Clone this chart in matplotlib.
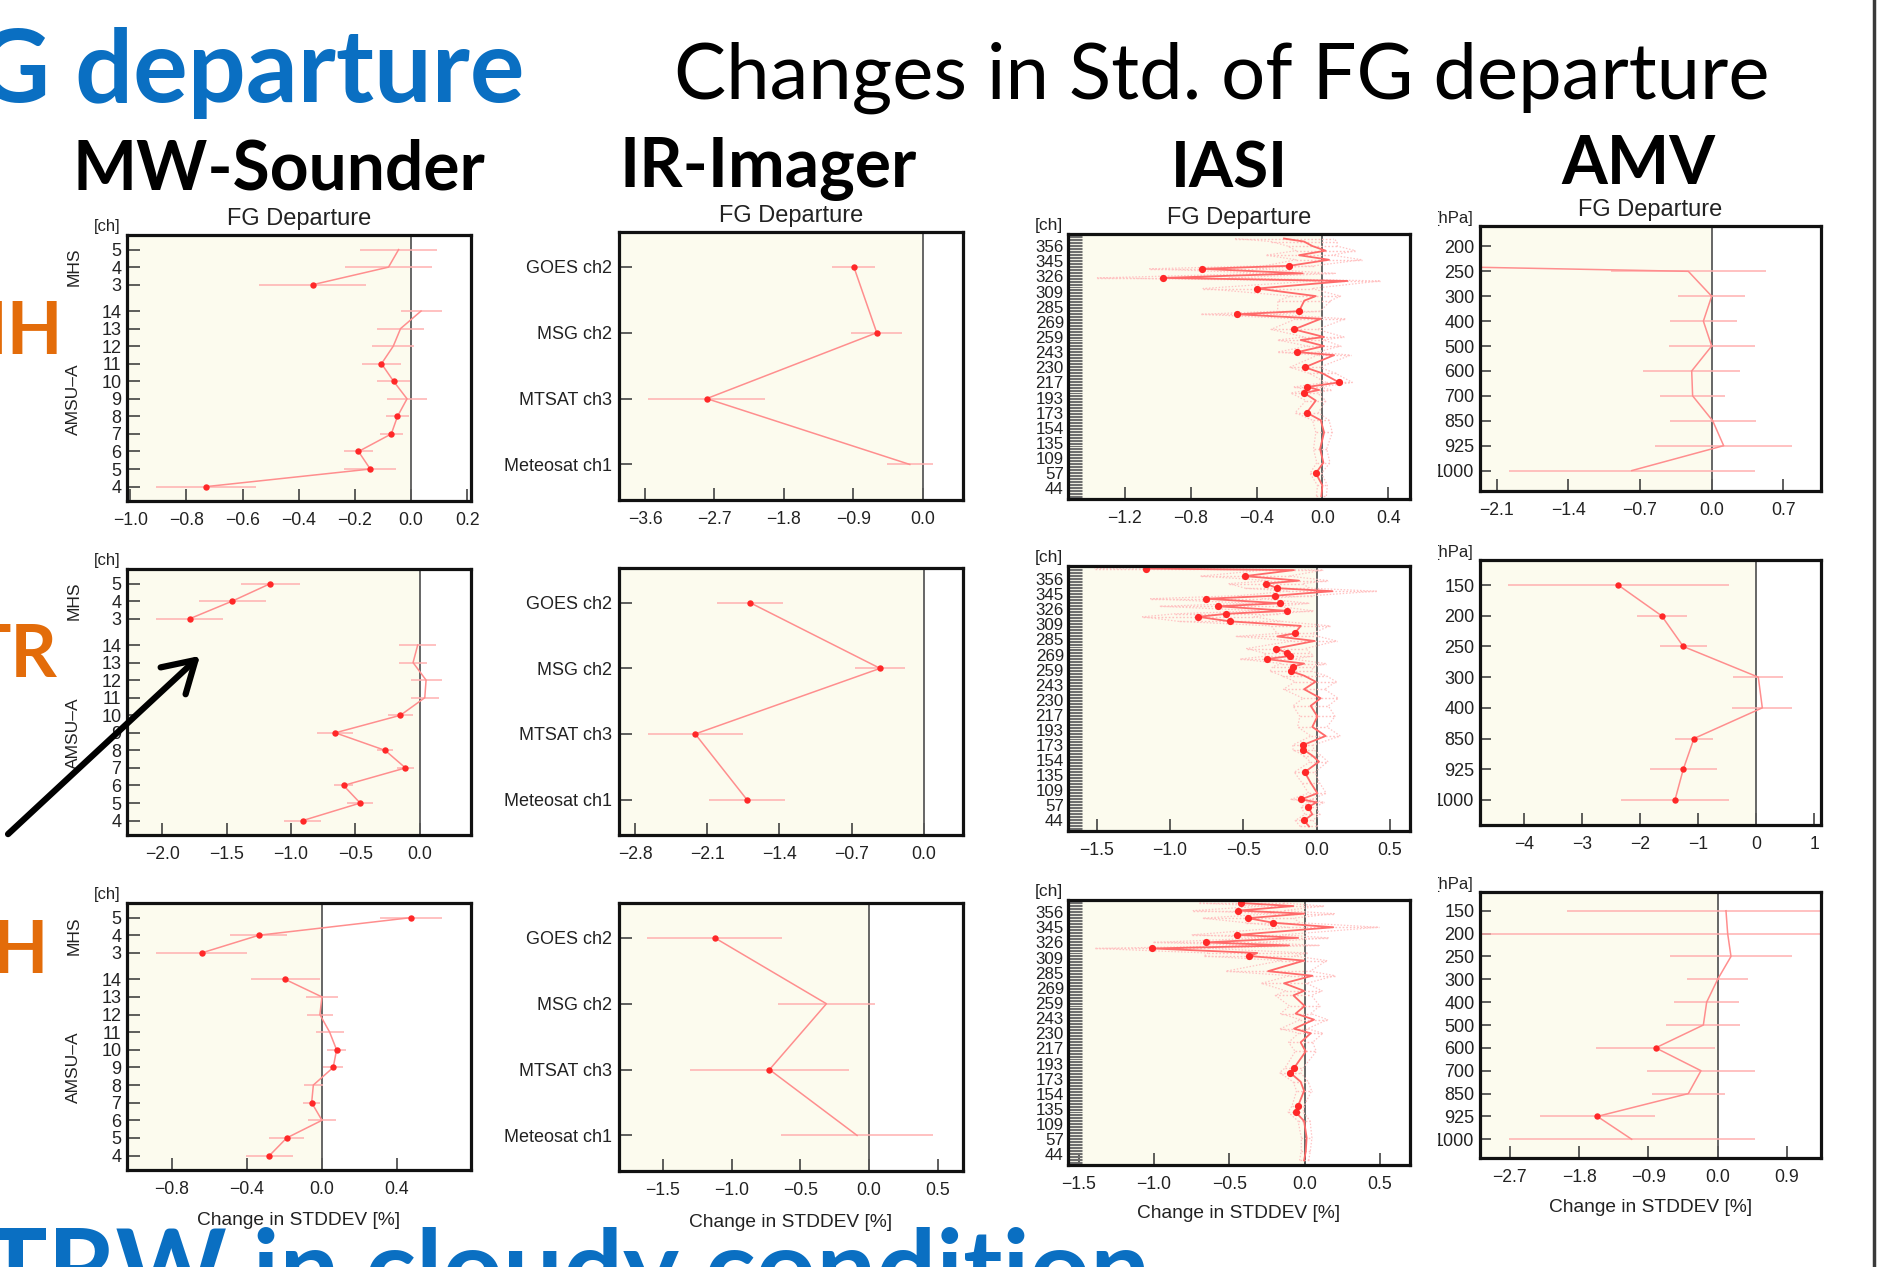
import numpy as np
import matplotlib
matplotlib.use("Agg")
import matplotlib.pyplot as plt
from matplotlib.transforms import blended_transform_factory
from matplotlib.patches import Rectangle, FancyArrowPatch
from matplotlib.lines import Line2D

# ======================= DATA =======================
# --- MW-Sounder (AMSU-A channels 4..14, MHS channels 3..5) ---
amsu_ch = [4, 5, 6, 7, 8, 9, 10, 11, 12, 13, 14]
mhs_ch = [3, 4, 5]

mw_nh_amsu = [-0.73, -0.145, -0.187, -0.07, -0.048, -0.014, -0.062, -0.105, -0.063, -0.037, 0.036]
mw_nh_amsu_err = [0.178, 0.093, 0.053, 0.04, 0.042, 0.07, 0.058, 0.07, 0.075, 0.083, 0.073]
mw_nh_mhs = [-0.35, -0.08, -0.044]
mw_nh_mhs_err = [0.19, 0.154, 0.137]

mw_tr_amsu = [-0.91, -0.463, -0.592, -0.111, -0.269, -0.656, -0.15, 0.039, 0.049, -0.052, -0.016]
mw_tr_amsu_err = [0.142, 0.1, 0.074, 0.066, 0.065, 0.14, 0.098, 0.11, 0.12, 0.11, 0.146]
mw_tr_mhs = [-1.786, -1.457, -1.16]
mw_tr_mhs_err = [0.26, 0.26, 0.23]

mw_sh_amsu = [-0.28, -0.188, 0.0, -0.055, -0.046, 0.06, 0.078, 0.041, -0.011, 0.0, -0.197]
mw_sh_amsu_err = [0.127, 0.093, 0.075, 0.047, 0.049, 0.053, 0.052, 0.075, 0.068, 0.083, 0.184]
mw_sh_mhs = [-0.641, -0.337, 0.476]
mw_sh_mhs_err = [0.242, 0.153, 0.164]

# --- IR-Imager (top to bottom) ---
ir_sat = ["GOES ch2", "MSG ch2", "MTSAT ch3", "Meteosat ch1"]
ir_nh = [-0.893, -0.596, -2.80, -0.168]
ir_nh_err = [0.28, 0.33, 0.76, 0.30]
ir_tr = [-1.683, -0.423, -2.216, -1.715]
ir_tr_err = [0.32, 0.245, 0.46, 0.37]
ir_sh = [-1.121, -0.31, -0.724, -0.087]
ir_sh_err = [0.49, 0.35, 0.58, 0.555]

# --- IASI (channel index in used-channel list, bottom to top) ---
iasi_labels = [44, 57, 109, 135, 154, 173, 193, 217, 230, 243, 259, 269, 285, 309, 326, 345, 356]

iasi_nh_idx = [2, 9, 17, 24, 33, 44, 52, 57, 65, 70, 72, 74, 77, 83, 87, 95, 97, 101, 105, 107,
               112, 119, 122, 124, 131, 134, 139, 144, 146, 149, 152, 154, 158, 161, 164, 167, 170, 172]
iasi_nh = [-0.006, 0.0, -0.04, 0.006, -0.014, 0.01, -0.01, -0.095, -0.04, -0.111,
           -0.02, -0.091, 0.101, 0.0, -0.107, 0.071, -0.152, 0.01, -0.132, 0.01,
           -0.172, -0.01, -0.516, -0.142, -0.11, -0.04, -0.395, 0.152, -0.966, -0.121,
           -0.729, -0.2, 0.04, -0.142, 0.02, -0.06, -0.111, -0.233]
iasi_nh_err = [0.03, 0.03, 0.035, 0.04, 0.04, 0.05, 0.05, 0.07, 0.06, 0.08,
               0.07, 0.08, 0.08, 0.08, 0.09, 0.1, 0.12, 0.1, 0.14, 0.12,
               0.14, 0.15, 0.22, 0.13, 0.16, 0.15, 0.33, 0.2, 0.4, 0.2,
               0.32, 0.15, 0.2, 0.2, 0.18, 0.15, 0.2, 0.3]

iasi_tr_idx = [3, 7, 11, 16, 19, 21, 25, 32, 39, 46, 50, 54, 57, 63, 69, 76, 83, 88, 94, 99,
               103, 106, 109, 111, 114, 116, 118, 121, 126, 129, 131, 136, 139, 142, 144, 146, 149, 151, 154, 156,
               159, 161, 164, 166, 169, 173, 174]
iasi_tr = [-0.052, -0.086, -0.03, -0.057, 0.0, -0.105, 0.005, -0.041, -0.082, 0.016,
           -0.03, -0.091, -0.093, 0.061, -0.03, 0.005, -0.041, 0.027, -0.086, -0.007,
           -0.086, -0.177, -0.159, -0.086, -0.341, -0.182, -0.2, -0.277, -0.014, -0.268,
           -0.15, -0.109, -0.591, -0.807, -0.616, -0.205, -0.67, -0.25, -0.752, -0.284,
           0.107, -0.268, -0.348, -0.12, -0.489, -0.155, -1.164]
iasi_tr_err = [0.06, 0.06, 0.05, 0.05, 0.05, 0.07, 0.06, 0.06, 0.07, 0.06,
               0.06, 0.07, 0.07, 0.1, 0.1, 0.12, 0.12, 0.12, 0.14, 0.14,
               0.15, 0.14, 0.14, 0.15, 0.18, 0.16, 0.16, 0.2, 0.15, 0.28,
               0.12, 0.2, 0.35, 0.38, 0.35, 0.18, 0.4, 0.2, 0.38, 0.25,
               0.3, 0.22, 0.25, 0.2, 0.3, 0.2, 0.35]

iasi_sh_idx = [3, 9, 18, 29, 35, 39, 49, 55, 61, 64, 75, 81, 87, 90, 96, 100, 105, 112, 115, 120,
               125, 128, 135, 138, 140, 143, 145, 147, 150, 152, 157, 160, 163, 166, 168, 171, 173]
iasi_sh = [-0.004, 0.007, 0.013, -0.004, -0.06, -0.044, -0.004, -0.027, -0.097, -0.071,
           0.007, -0.027, 0.04, -0.071, 0.062, -0.06, 0.0, -0.075, -0.004, -0.137,
           0.051, -0.243, -0.004, -0.367, -0.314, -1.011, -0.104, -0.655, -0.044, -0.447,
           0.19, -0.21, -0.376, -0.004, -0.44, -0.075, -0.42]
iasi_sh_err = [0.03, 0.03, 0.035, 0.04, 0.05, 0.04, 0.05, 0.05, 0.07, 0.06,
               0.07, 0.08, 0.08, 0.09, 0.09, 0.1, 0.1, 0.12, 0.12, 0.15,
               0.15, 0.28, 0.15, 0.3, 0.33, 0.38, 0.2, 0.35, 0.2, 0.3,
               0.3, 0.18, 0.3, 0.2, 0.3, 0.2, 0.28]

# --- AMV (pressure levels, top to bottom) ---
amv_nh_lev = [200, 250, 300, 400, 500, 600, 700, 850, 925, 1000]
amv_nh = [-12.8, -0.228, 0.0, -0.081, 0.0, -0.195, -0.186, 0.01, 0.117, -0.78]
amv_nh_err = [1.0, 0.757, 0.33, 0.33, 0.42, 0.474, 0.317, 0.42, 0.667, 1.2]

amv_tr_lev = [150, 200, 250, 300, 400, 850, 925, 1000]
amv_tr = [-2.379, -1.632, -1.259, 0.034, 0.103, -1.075, -1.259, -1.402]
amv_tr_err = [1.9, 0.43, 0.4, 0.43, 0.52, 0.325, 0.575, 0.934]

amv_sh_lev = [150, 200, 250, 300, 400, 500, 600, 700, 850, 925, 1000]
amv_sh = [0.108, 0.13, 0.173, 0.0, -0.143, -0.186, -0.806, -0.217, -0.381, -1.564, -1.118]
amv_sh_err = [2.07, 4.0, 0.79, 0.4, 0.42, 0.48, 0.77, 0.7, 0.47, 0.75, 1.6]

# --- x tick values ---
xt_mw = [[-1.0, -0.8, -0.6, -0.4, -0.2, 0.0, 0.2], [-2.0, -1.5, -1.0, -0.5, 0.0], [-0.8, -0.4, 0.0, 0.4]]
xt_ir = [[-3.6, -2.7, -1.8, -0.9, 0.0], [-2.8, -2.1, -1.4, -0.7, 0.0], [-1.5, -1.0, -0.5, 0.0, 0.5]]
xt_iasi = [[-1.2, -0.8, -0.4, 0.0, 0.4], [-1.5, -1.0, -0.5, 0.0, 0.5], [-1.5, -1.0, -0.5, 0.0, 0.5]]
xt_amv = [[-2.1, -1.4, -0.7, 0.0, 0.7], [-4, -3, -2, -1, 0, 1], [-2.7, -1.8, -0.9, 0.0, 0.9]]

# ======================= LAYOUT / STYLE =======================
W, H = 1887, 1267
fig = plt.figure(figsize=(W / 100, H / 100), dpi=100)
fig.patch.set_facecolor("white")
plt.rcParams["font.family"] = ["Liberation Sans", "DejaVu Sans"]

CREAM = "#fcfbee"
LINE = "#ff8e8e"
ERR = "#ffb0b0"
DOT = "#ff2828"
TXT = "#222222"


def px_axes(box):
    l, t, r, b = box
    return fig.add_axes([l / W, 1 - b / H, (r - l) / W, (b - t) / H])


def fmt_tick(v, nd):
    s = f"{v:.{nd}f}"
    if s.startswith("-"):
        s = "\u2212" + s[1:]
    if s in ("\u22120.0", "\u22120"):
        s = s[1:]
    return s


def base_axes(box, xlim, ylim, xticks, nd):
    ax = px_axes(box)
    ax.set_xlim(xlim)
    ax.set_ylim(ylim)
    ax.axvspan(xlim[0], 0, facecolor=CREAM, edgecolor="none", zorder=0)
    ax.axvline(0, color="#5a5a5a", lw=1.3, zorder=2)
    for s in ax.spines.values():
        s.set_linewidth(2.3)
        s.set_color("#111111")
        s.set_zorder(6)
    ax.set_xticks(xticks, [fmt_tick(v, nd) for v in xticks])
    ax.tick_params(axis="x", direction="in", length=9, width=1.1, color="#333333",
                   labelcolor=TXT, labelsize=12.7, pad=8, top=False)
    ax.tick_params(axis="y", direction="in", length=9, width=1.1, color="#333333",
                   labelcolor=TXT, labelsize=13, pad=4, right=False)
    return ax


def profile(ax, y, v, e):
    y = np.asarray(y, float)
    v = np.asarray(v, float)
    e = np.asarray(e, float)
    ax.errorbar(v, y, xerr=e, fmt="none", ecolor=ERR, elinewidth=1.1, capsize=0, zorder=3)
    ax.plot(v, y, color=LINE, lw=1.1, zorder=4)
    sig = np.abs(v) > e
    ax.plot(v[sig], y[sig], "o", color=DOT, ms=4.6, mew=0, zorder=5)


def mw_panel(box, xlim, xticks, nd, amsu, amsu_e, mhs, mhs_e):
    ax = base_axes(box, xlim, (-0.82, 14.33), xticks, nd)
    ya = np.arange(len(amsu_ch), dtype=float)
    ym = len(amsu_ch) + 0.5 + np.arange(len(mhs_ch))
    profile(ax, ya, amsu, amsu_e)
    profile(ax, ym, mhs, mhs_e)
    ax.set_yticks(np.concatenate([ya, ym]), [str(c) for c in amsu_ch + mhs_ch])
    tr = blended_transform_factory(ax.transAxes, ax.transData)
    ax.text(-0.155, ym.mean(), "MHS", rotation=90, ha="center", va="center",
            transform=tr, fontsize=12.5, color=TXT)
    ax.text(-0.155, ya.mean(), "AMSU\u2013A", rotation=90, ha="center", va="center",
            transform=tr, fontsize=12.5, color=TXT)
    ax.text(-0.02, 1.005, "[ch]", ha="right", va="bottom", transform=ax.transAxes,
            fontsize=12, color=TXT)
    return ax


def ir_panel(box, xlim, xticks, nd, vals, errs):
    n = len(ir_sat)
    y = n - 1 - np.arange(n)
    ax = base_axes(box, xlim, (-0.54, n - 1 + 0.53), xticks, nd)
    profile(ax, y, vals, errs)
    ax.set_yticks(y, ir_sat)
    ax.tick_params(axis="y", labelsize=13, pad=5)
    return ax


def iasi_panel(box, xlim, ylim, xticks, nd, idx, vals, errs):
    ax = base_axes(box, xlim, ylim, xticks, nd)
    ypos = 7 + 10 * np.arange(len(iasi_labels))
    ax.set_yticks(ypos, [str(c) for c in iasi_labels])
    ax.set_yticks(np.arange(0, 176), minor=True)
    ax.tick_params(axis="y", which="both", direction="in", length=10, width=0.8,
                   color="#6f6f6f", right=False)
    ax.tick_params(axis="y", which="major", labelsize=12.2, pad=3)
    y = np.asarray(idx, float)
    v = np.asarray(vals, float)
    e = np.asarray(errs, float)
    dotted = (0, (1.2, 1.4))
    eb = ax.errorbar(v, y, xerr=e, fmt="none", ecolor="#ffc0c0", elinewidth=1.0, capsize=0, zorder=3)
    eb[2][0].set_linestyle(dotted)
    ax.plot(v - e, y, color="#ffc4c4", lw=0.9, ls=dotted, zorder=3)
    ax.plot(v + e, y, color="#ffc4c4", lw=0.9, ls=dotted, zorder=3)
    ax.plot(v, y, color="#ff6a6a", lw=1.3, zorder=4)
    sig = np.abs(v) > e
    ax.plot(v[sig], y[sig], "o", color=DOT, ms=5.2, mew=0, zorder=5)
    ax.text(-0.015, 1.005, "[ch]", ha="right", va="bottom", transform=ax.transAxes,
            fontsize=12.5, color=TXT)
    return ax


def amv_panel(box, xlim, xticks, nd, levels, vals, errs):
    n = len(levels)
    y = n - 1 - np.arange(n)
    ax = base_axes(box, xlim, (-0.82, n - 1 + 0.82), xticks, nd)
    profile(ax, y, vals, errs)
    ax.set_yticks(y, [str(l) for l in levels])
    ax.tick_params(axis="y", length=8)
    ax.text(-0.018, 1.0, "[hPa]", ha="right", va="bottom", transform=ax.transAxes,
            fontsize=12, color=TXT)
    return ax


# panel boxes (left, top, right, bottom) in pixels
mw_boxes = [(127, 235, 471, 501), (127, 569, 471, 835), (127, 903, 471, 1170)]
ir_boxes = [(619, 232, 963, 500), (619, 568, 963, 835), (619, 903, 963, 1171)]
iasi_boxes = [(1068, 234, 1410, 499), (1068, 566, 1410, 831), (1068, 900, 1410, 1165)]
amv_boxes = [(1480, 226, 1821, 491), (1480, 560, 1821, 825), (1480, 892, 1821, 1158)]

mw_xlim = [(-1.012, 0.214), (-2.274, 0.398), (-1.04, 0.795)]
ir_xlim = [(-3.937, 0.522), (-2.955, 0.381), (-1.818, 0.683)]
iasi_xlim = [(-1.545, 0.532), (-1.695, 0.636), (-1.571, 0.699)]
iasi_ylim = [(0.0, 173.2), (2.2, 175.7), (0.4, 174.2)]
amv_xlim = [(-2.263, 1.068), (-4.764, 1.115), (-3.089, 1.343)]

mw_data = [(mw_nh_amsu, mw_nh_amsu_err, mw_nh_mhs, mw_nh_mhs_err),
           (mw_tr_amsu, mw_tr_amsu_err, mw_tr_mhs, mw_tr_mhs_err),
           (mw_sh_amsu, mw_sh_amsu_err, mw_sh_mhs, mw_sh_mhs_err)]
ir_data = [(ir_nh, ir_nh_err), (ir_tr, ir_tr_err), (ir_sh, ir_sh_err)]
iasi_data = [(iasi_nh_idx, iasi_nh, iasi_nh_err), (iasi_tr_idx, iasi_tr, iasi_tr_err),
             (iasi_sh_idx, iasi_sh, iasi_sh_err)]
amv_data = [(amv_nh_lev, amv_nh, amv_nh_err), (amv_tr_lev, amv_tr, amv_tr_err),
            (amv_sh_lev, amv_sh, amv_sh_err)]

all_axes = []
for r in range(3):
    a1 = mw_panel(mw_boxes[r], mw_xlim[r], xt_mw[r], 1, *mw_data[r])
    a2 = ir_panel(ir_boxes[r], ir_xlim[r], xt_ir[r], 1, *ir_data[r])
    a3 = iasi_panel(iasi_boxes[r], iasi_xlim[r], iasi_ylim[r], xt_iasi[r], 1, *iasi_data[r])
    a4 = amv_panel(amv_boxes[r], amv_xlim[r], xt_amv[r], 0 if r == 1 else 1, *amv_data[r])
    all_axes.append((a1, a2, a3, a4))

for ax in all_axes[0]:
    ax.set_title("FG Departure", fontsize=17, color=TXT, pad=7)

# x labels on bottom row
xl_base = [1225, 1227, 1218, 1212]
for ax, yb in zip(all_axes[2], xl_base):
    bb = ax.get_position()
    fig.text((bb.x0 + bb.x1) / 2, 1 - yb / H, "Change in STDDEV [%]", ha="center",
             va="baseline", fontsize=13.8, color=TXT)

# white mask cropping the AMV column's left labels (screenshot crop)
fig.add_artist(Rectangle((1414 / W, 0.03), (1438 - 1414) / W, 0.85, transform=fig.transFigure,
                         facecolor="white", edgecolor="none", zorder=20))

# ======================= SLIDE TEXT =======================
fig.canvas.draw()
renderer = fig.canvas.get_renderer()
HEAD = ["Lato", "DejaVu Sans"]


def fit_text(s, x, yb, width, ha="center", **kw):
    t = fig.text(x / W, 1 - yb / H, s, ha=ha, va="baseline", fontsize=40, **kw)
    bb = t.get_window_extent(renderer)
    t.set_fontsize(40 * width / bb.width)
    return t


fit_text("Changes in Std. of FG departure", 1222, 99, 1095, family=HEAD, color="black", zorder=30)
fit_text("MW-Sounder", 279, 190, 413, family=HEAD, weight="bold", color="black", zorder=30)
fit_text("IR-Imager", 768, 187, 297, family=HEAD, weight="bold", color="black", zorder=30)
fit_text("IASI", 1229, 187, 117, family=HEAD, weight="bold", color="black", zorder=30)
fit_text("AMV", 1638, 184, 154, family=HEAD, weight="bold", color="black", zorder=30)

BLUE = "#0a6fc2"
ORANGE = "#e36c0a"
probe = fig.text(0, 0, "departure", fontsize=40, family=HEAD, weight="bold")
gw = probe.get_window_extent(renderer).width
probe.remove()
big = 40 * 449 / gw
fig.text(524 / W, 1 - 102 / H, "FG departure", ha="right", va="baseline", fontsize=big,
         family=HEAD, weight="bold", color=BLUE, zorder=30)
fit_text("TRW in cloudy condition", 1150, 1305, 1165, ha="right",
         family=HEAD, weight="bold", color=BLUE, zorder=30)

fig.text(63 / W, 1 - 354 / H, "NH", ha="right", va="baseline", fontsize=52,
         family=HEAD, weight="bold", color=ORANGE, zorder=30)
fig.text(58 / W, 1 - 677 / H, "TR", ha="right", va="baseline", fontsize=52,
         family=HEAD, weight="bold", color=ORANGE, zorder=30)
fig.text(49 / W, 1 - 973 / H, "SH", ha="right", va="baseline", fontsize=52,
         family=HEAD, weight="bold", color=ORANGE, zorder=30)

# arrow
arr = FancyArrowPatch((6 / W, 1 - 836 / H), (202 / W, 1 - 654 / H), transform=fig.transFigure,
                      arrowstyle="->,head_length=1.0,head_width=0.6", mutation_scale=22,
                      lw=4.5, color="black", zorder=31)
fig.add_artist(arr)

# right slide edge
fig.add_artist(Line2D([1874 / W, 1874 / W], [0, 1], transform=fig.transFigure,
                      color="#3a3a3a", lw=2.5, zorder=30))

fig.savefig("out.png", dpi=100, facecolor="white")
